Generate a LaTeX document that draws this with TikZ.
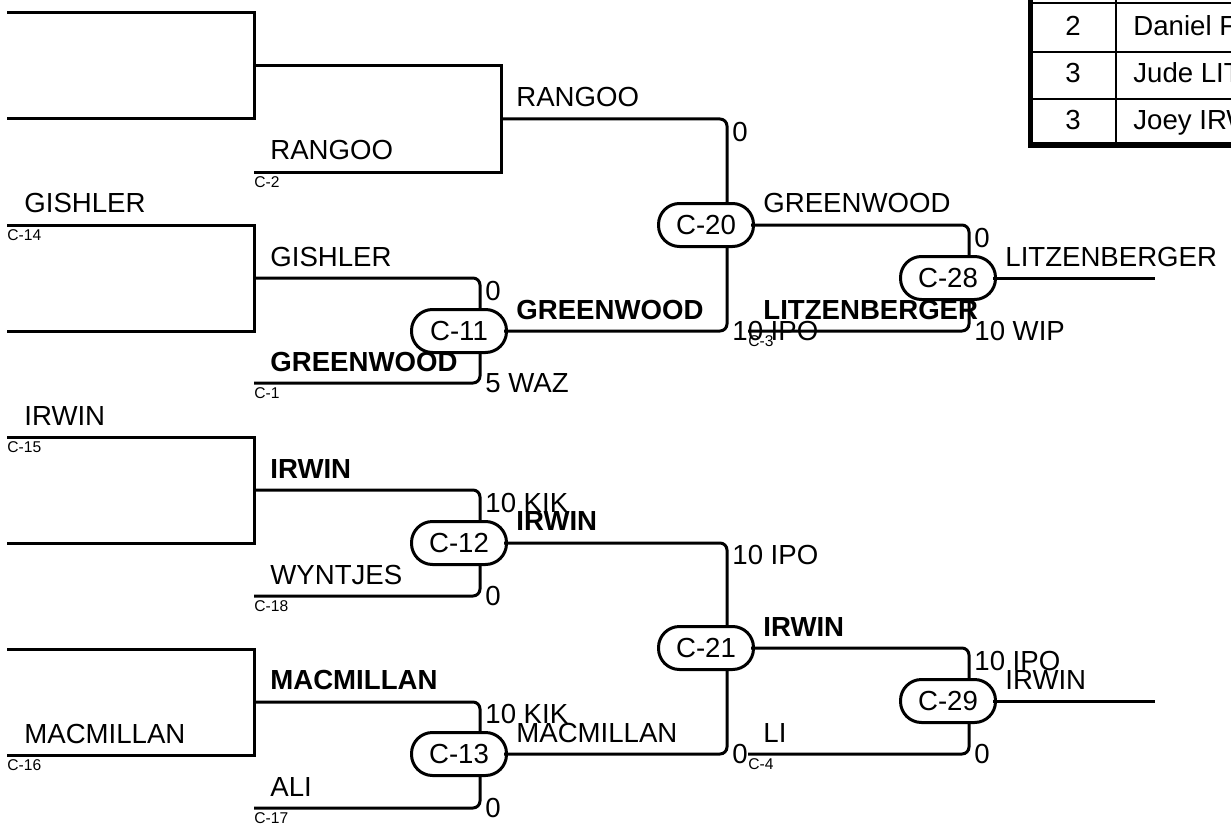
\documentclass[tikz,border=0pt]{standalone}
\usepackage{fontspec}
\setmainfont{Liberation Sans}
\tikzstyle{wire}=[line width=1.5pt]
\tikzstyle{bout}=[wire,rounded corners=3.5pt]
\tikzstyle{match}=[shape=rectangle,rounded corners=10.5pt,minimum width=47.5pt,minimum height=21.5pt,inner sep=0,line width=1.5pt,draw,fill=white,font=\fontsize{13.8}{16}\selectfont]
\tikzstyle{team}=[anchor=base west,inner sep=0,font=\fontsize{13.8}{16}\selectfont]
\tikzstyle{winner}=[anchor=base west,inner sep=0,font=\fontsize{13.8}{16}\selectfont\bfseries]
\tikzstyle{slot}=[anchor=north west,inner sep=0,font=\fontsize{7.8}{9}\selectfont]
\tikzstyle{topscore}=[anchor=north west,inner sep=0,font=\fontsize{13.8}{16}\selectfont]
\tikzstyle{lowscore}=[anchor=west,inner sep=0,font=\fontsize{13.8}{16}\selectfont]
\tikzstyle{cell}=[anchor=base,inner sep=0,font=\fontsize{13.8}{16}\selectfont]
\begin{document}
\begin{tikzpicture}[x=0.5pt,y=-0.5pt]
\clip (0,0) rectangle (1231,824);

\node[match] (c11) at (459,331) {C-11};
\node[match] (c12) at (459,543) {C-12};
\node[match] (c13) at (459,754) {C-13};
\node[match] (c20) at (706,225) {C-20};
\node[match] (c21) at (706,648) {C-21};
\node[match] (c28) at (948,278) {C-28};
\node[match] (c29) at (948,701) {C-29};

\foreach \y/\b in {13/b1,225/b2,437/b3,649/b4}{
	\coordinate (\b-top) at (7,\y);
	\coordinate (\b-bot) at (7,\y+106);
	\coordinate (\b) at (254,\y+53);
	\draw[wire] (\b-top) -| (\b) |- (\b-bot);
}
\coordinate (d2) at (254,172);
\coordinate (d1) at (254,383);
\coordinate (d18) at (254,596);
\coordinate (d17) at (254,808);
\coordinate (j1) at (501,119);
\coordinate (d3) at (748,331);
\coordinate (d4) at (748,754);
\coordinate (f28) at (1155,278);
\coordinate (f29) at (1155,701);

\draw[wire] (b1) -| (j1) |- (d2);
\draw[bout] (j1) -| ([xshift=10.5pt]c20.north);
\draw[bout] (b2) -| ([xshift=10.5pt]c11.north);
\draw[bout] (d1) -| ([xshift=10.5pt]c11.south);
\draw[bout] (b3) -| ([xshift=10.5pt]c12.north);
\draw[bout] (d18) -| ([xshift=10.5pt]c12.south);
\draw[bout] (b4) -| ([xshift=10.5pt]c13.north);
\draw[bout] (d17) -| ([xshift=10.5pt]c13.south);
\draw[bout] ([xshift=-2pt]c11.east) -| ([xshift=10.5pt]c20.south);
\draw[bout] ([xshift=-2pt]c12.east) -| ([xshift=10.5pt]c21.north);
\draw[bout] ([xshift=-2pt]c13.east) -| ([xshift=10.5pt]c21.south);
\draw[bout] ([xshift=-2pt]c20.east) -| ([xshift=10.5pt]c28.north);
\draw[bout] (d3) -| ([xshift=10.5pt]c28.south);
\draw[bout] ([xshift=-2pt]c21.east) -| ([xshift=10.5pt]c29.north);
\draw[bout] (d4) -| ([xshift=10.5pt]c29.south);
\draw[wire] ([xshift=-2pt]c28.east) -- (f28);
\draw[wire] ([xshift=-2pt]c29.east) -- (f29);

\node[team] (t14) at (24,213) {GISHLER};
\node[slot] (s14) at (7,229) {C-14};
\node[team] (t15) at (24,425) {IRWIN};
\node[slot] (s15) at (7,441) {C-15};
\node[team] (t16) at (24,743) {MACMILLAN};
\node[slot] (s16) at (7,759) {C-16};
\node[team] (t2) at (270,160) {RANGOO};
\node[slot] (s2) at (254,176) {C-2};
\node[team] (tg) at (270,266) {GISHLER};
\node[winner] (t1) at (270,371) {GREENWOOD};
\node[slot] (s1) at (254,387) {C-1};
\node[winner] (ti) at (270,478) {IRWIN};
\node[team] (t18) at (270,584) {WYNTJES};
\node[slot] (s18) at (254,600) {C-18};
\node[winner] (tm) at (270,689) {MACMILLAN};
\node[team] (t17) at (270,796) {ALI};
\node[slot] (s17) at (254,812) {C-17};
\node[team] (tr) at (516,107) {RANGOO};
\node[winner] (w11) at (516,319) {GREENWOOD};
\node[winner] (w12) at (516,530) {IRWIN};
\node[team] (w13) at (516,742) {MACMILLAN};
\node[team] (w20) at (763,213) {GREENWOOD};
\node[winner] (t3) at (763,319) {LITZENBERGER};
\node[slot] (s3) at (748,335) {C-3};
\node[winner] (w21) at (763,636) {IRWIN};
\node[team] (t4) at (763,742) {LI};
\node[slot] (s4) at (748,758) {C-4};
\node[team] (w28) at (1005,266) {LITZENBERGER};
\node[team] (w29) at (1005,689) {IRWIN};

\node[topscore] (p11) at (485,281) {0};
\node[lowscore] (q11) at (485,383) {5 WAZ};
\node[topscore] (p12) at (485,493) {10 KIK};
\node[lowscore] (q12) at (485,596) {0};
\node[topscore] (p13) at (485,704) {10 KIK};
\node[lowscore] (q13) at (485,808) {0};
\node[topscore] (p20) at (732,122) {0};
\node[lowscore] (q20) at (732,331) {10 IPO};
\node[topscore] (p21) at (732,545) {10 IPO};
\node[lowscore] (q21) at (732,754) {0};
\node[topscore] (p28) at (974,228) {0};
\node[lowscore] (q28) at (974,331) {10 WIP};
\node[topscore] (p29) at (974,651) {10 IPO};
\node[lowscore] (q29) at (974,754) {0};

\draw[line width=1pt] (1116,-5) -- (1116,145);
\foreach \y in {3,52,99}
	\draw[line width=1pt] (1030,\y) -- (1240,\y);
\draw[line width=2.5pt] (1030,-5) -- (1030,145) -- (1240,145);
\node[cell] (n1) at (1073,36) {2};
\node[cell,anchor=base west] (m1) at (1133,36) {Daniel F};
\node[cell] (n2) at (1073,83) {3};
\node[cell,anchor=base west] (m2) at (1133,83) {Jude LIT};
\node[cell] (n3) at (1073,130) {3};
\node[cell,anchor=base west] (m3) at (1133,130) {Joey IRW};
\end{tikzpicture}
\end{document}
